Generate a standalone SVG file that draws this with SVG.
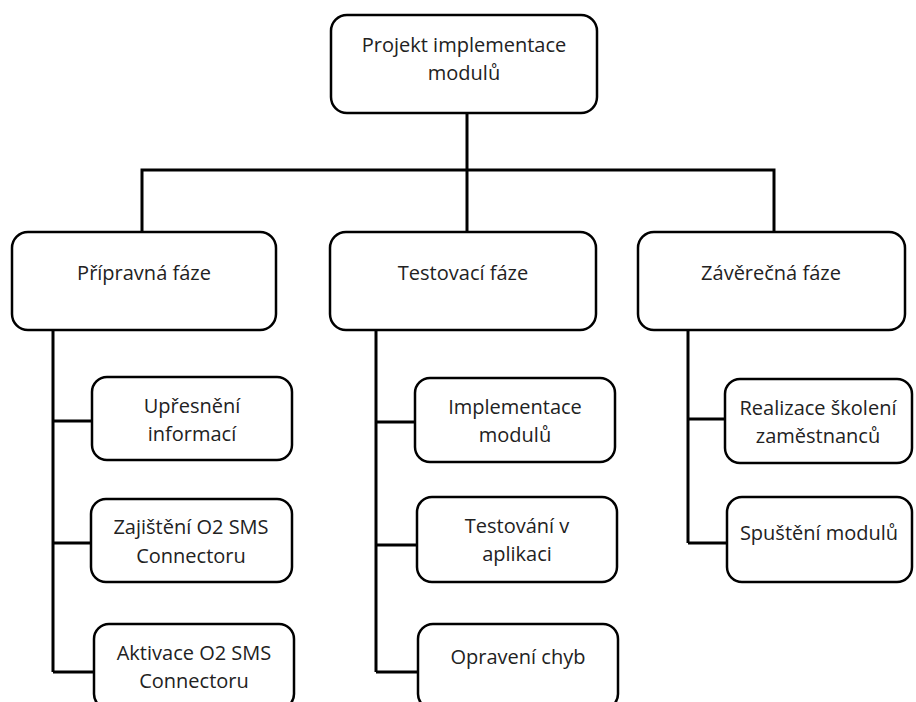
<svg xmlns="http://www.w3.org/2000/svg" width="916" height="702" viewBox="0 0 916 702">
<style>
.box{fill:#fff;stroke:#000;stroke-width:2.5}
.t{font-family:"Open Sans","Liberation Sans",sans-serif;font-size:20px;fill:#222;text-anchor:middle}
.c{fill:none;stroke:#000;stroke-width:3;stroke-linejoin:miter}
</style>
<rect width="916" height="702" fill="#fff"/>
<g id="connectors">
<path class="c" d="M467 113V170M142 232V170H774V232M467 170V232"/>
<path class="c" d="M53 330V672M53 421H92M53 543H91M53 672H94"/>
<path class="c" d="M376 330V672M376 422H415M376 545H417M376 672H419"/>
<path class="c" d="M688 330V543M688 419H725M688 543H727"/>
</g>
<g id="root">
<rect class="box" x="331" y="15" width="266" height="98" rx="16"/>
<text class="t" x="464" y="52">Projekt implementace</text>
<text class="t" x="464" y="80">modulů</text>
</g>
<g id="phase1">
<rect class="box" x="12" y="232" width="264" height="98" rx="16"/>
<text class="t" x="144" y="280">Přípravná fáze</text>
</g>
<g id="phase2">
<rect class="box" x="330" y="232" width="266" height="98" rx="16"/>
<text class="t" x="463" y="280">Testovací fáze</text>
</g>
<g id="phase3">
<rect class="box" x="638" y="232" width="267" height="98" rx="16"/>
<text class="t" x="771" y="280">Závěrečná fáze</text>
</g>
<g id="n11">
<rect class="box" x="92" y="377" width="200" height="83" rx="15"/>
<text class="t" x="192" y="413">Upřesnění</text>
<text class="t" x="192" y="441">informací</text>
</g>
<g id="n12">
<rect class="box" x="91" y="499" width="201" height="83" rx="15"/>
<text class="t" x="191" y="534">Zajištění O2 SMS</text>
<text class="t" x="191" y="563">Connectoru</text>
</g>
<g id="n13">
<rect class="box" x="94" y="624" width="200" height="85" rx="15"/>
<text class="t" x="194" y="660">Aktivace O2 SMS</text>
<text class="t" x="194" y="688">Connectoru</text>
</g>
<g id="n21">
<rect class="box" x="415" y="378" width="200" height="84" rx="15"/>
<text class="t" x="515" y="414">Implementace</text>
<text class="t" x="515" y="442">modulů</text>
</g>
<g id="n22">
<rect class="box" x="417" y="497" width="200" height="85" rx="15"/>
<text class="t" x="517" y="533">Testování v</text>
<text class="t" x="517" y="561">aplikaci</text>
</g>
<g id="n23">
<rect class="box" x="418" y="624" width="200" height="85" rx="15"/>
<text class="t" x="518" y="664">Opravení chyb</text>
</g>
<g id="n31">
<rect class="box" x="725" y="379" width="187" height="84" rx="15"/>
<text class="t" x="818" y="415">Realizace školení</text>
<text class="t" x="818" y="443">zaměstnanců</text>
</g>
<g id="n32">
<rect class="box" x="727" y="497" width="185" height="85" rx="15"/>
<text class="t" x="819" y="540">Spuštění modulů</text>
</g>
</svg>
